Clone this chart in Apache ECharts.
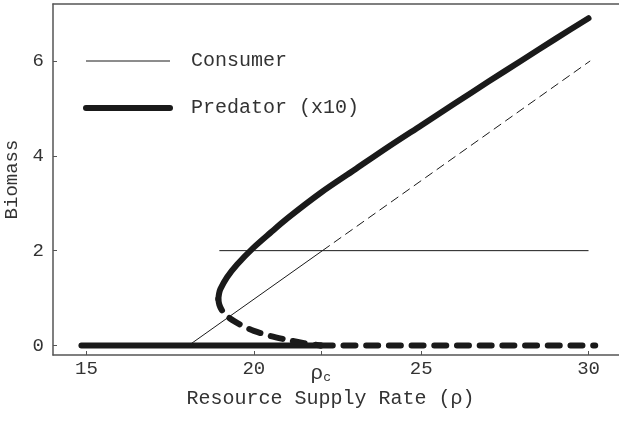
<!DOCTYPE html>
<html>
<head>
<meta charset="utf-8">
<script src="https://cdn.jsdelivr.net/npm/echarts@6/dist/echarts.min.js"></script>
<style>
  html, body { margin: 0; padding: 0; background: #fff; }
  #chart { width: 619px; height: 422px; }
</style>
</head>
<body>
<div id="chart"></div>
<script>
// tick values and labels
var xTickValues = [15, 20, 22, 25, 30];
var xTickLabels = ['15', '20', 'ρc', '25', '30'];
var yTickValues = [0, 2, 4, 6];

// consumer biomass
var consumerRiseX = [15, 18.05, 22.05];
var consumerRiseY = [0, 0, 2];
var consumerDashX = [22.05, 30.05];
var consumerDashY = [2, 6.0];
var consumerFlatX = [18.97, 30];
var consumerFlatY = [2, 2];

// predator biomass (x10): stable upper branch, unstable lower branch, zero states
var predUpperX = [18.94, 18.96, 19.0, 19.2, 19.5, 20.0, 20.5, 21.0, 22.0, 23.0, 24.0, 25.0, 26.0, 27.0, 28.0, 29.0, 30.0];
var predUpperY = [0.98, 1.09, 1.19, 1.44, 1.71, 2.07, 2.38, 2.68, 3.22, 3.70, 4.18, 4.64, 5.10, 5.56, 6.01, 6.46, 6.90];
var predLowerX = [18.94, 18.97, 19.05, 19.2, 19.4, 19.7, 20.0, 20.5, 21.0, 21.5, 22.0];
var predLowerY = [0.98, 0.86, 0.74, 0.62, 0.52, 0.40, 0.31, 0.20, 0.12, 0.05, 0.0];
var predZeroX = [14.85, 22];
var predZeroY = [0, 0];
var predZeroDashX = [22, 30.2];
var predZeroDashY = [0, 0];

function pairs(xs, ys) {
    return xs.map(function (x, i) { return [x, ys[i]]; });
}

var font = 'Liberation Mono';
var ink = '#1a1a1a';
var frame = '#555';

var chart = echarts.init(document.getElementById('chart'));
var option = {
    animation: false,
    color: [ink],
    grid: {
        left: 53,
        right: -3,
        top: 4,
        bottom: 67,
        outerBoundsMode: 'none',
        containLabel: false
    },
    legend: {
        orient: 'vertical',
        left: 78,
        top: 46,
        itemWidth: 84,
        itemHeight: 20,
        itemGap: 27,
        itemStyle: { opacity: 0 },
        lineStyle: { width: 'inherit' },
        data: ['Consumer', 'Predator (x10)'],
        textStyle: {
            fontFamily: font,
            fontSize: 20,
            color: '#333',
            lineHeight: 20,
            padding: [0, 0, 0, 16]
        }
    },
    xAxis: [{
        type: 'value',
        min: 14,
        max: 31,
        name: 'Resource Supply Rate (ρ)',
        nameLocation: 'middle',
        nameGap: 32,
        nameTextStyle: {
            fontFamily: font,
            fontSize: 20,
            color: '#333',
            padding: [0, 14, 0, 0]
        },
        axisLine: { onZero: false, lineStyle: { color: frame, width: 1.5 } },
        axisTick: { inside: true, length: 4, customValues: xTickValues, lineStyle: { color: frame } },
        splitLine: { show: false },
        axisLabel: {
            customValues: xTickValues,
            margin: 4,
            fontFamily: font,
            fontSize: 19,
            color: '#333',
            formatter: function (v) {
                var lab = xTickLabels[xTickValues.indexOf(v)];
                if (lab === 'ρc') return '{r|ρ}{s|c}';
                return lab;
            },
            rich: {
                r: { fontFamily: font, fontSize: 21, color: '#333', padding: [4, 0, 0, 0] },
                s: { fontFamily: font, fontSize: 13, color: '#333', padding: [12, 0, 0, 0] }
            }
        }
    }, {
        //  top edge of the frame
        type: 'value',
        position: 'top',
        min: 14,
        max: 31,
        axisLine: { show: true, onZero: false, lineStyle: { color: frame, width: 1.5 } },
        axisTick: { show: false },
        axisLabel: { show: false },
        splitLine: { show: false }
    }],
    yAxis: {
        type: 'value',
        min: -0.2,
        max: 7.2,
        name: 'Biomass',
        nameLocation: 'middle',
        nameGap: 27,
        nameTextStyle: { fontFamily: font, fontSize: 19, color: '#333' },
        axisLine: { show: true, onZero: false, lineStyle: { color: frame, width: 1.5 } },
        axisTick: { show: true, inside: true, length: 4, customValues: yTickValues, lineStyle: { color: frame } },
        splitLine: { show: false },
        axisLabel: {
            customValues: yTickValues,
            margin: 9,
            fontFamily: font,
            fontSize: 19,
            color: '#333'
        }
    },
    series: [
        {
            name: 'Consumer', type: 'line', symbol: 'none', z: 3,
            lineStyle: { color: ink, width: 1 },
            data: pairs(consumerFlatX, consumerFlatY)
        },
        {
            name: 'Consumer', type: 'line', symbol: 'none', z: 3,
            lineStyle: { color: ink, width: 1 },
            data: pairs(consumerRiseX, consumerRiseY)
        },
        {
            name: 'Consumer', type: 'line', symbol: 'none', z: 3,
            lineStyle: { color: ink, width: 1, type: [9, 5] },
            data: pairs(consumerDashX, consumerDashY)
        },
        {
            name: 'Predator (x10)', type: 'line', symbol: 'none', z: 2, smooth: 0.3,
            lineStyle: { color: ink, width: 6, cap: 'round', join: 'round' },
            data: pairs(predUpperX, predUpperY)
        },
        {
            name: 'Predator (x10)', type: 'line', symbol: 'none', z: 2,
            lineStyle: { color: ink, width: 6, cap: 'round' },
            data: pairs(predZeroX, predZeroY)
        },
        {
            name: 'Predator (x10)', type: 'line', symbol: 'none', z: 2, smooth: 0.3,
            lineStyle: { color: ink, width: 6, cap: 'round', type: [12, 10.7] },
            data: pairs(predLowerX, predLowerY)
        },
        {
            name: 'Predator (x10)', type: 'line', symbol: 'none', z: 2,
            lineStyle: { color: ink, width: 6, cap: 'round', type: [12, 10.7] },
            data: pairs(predZeroDashX, predZeroDashY)
        }
    ]
};
chart.setOption(option);
</script>
</body>
</html>
